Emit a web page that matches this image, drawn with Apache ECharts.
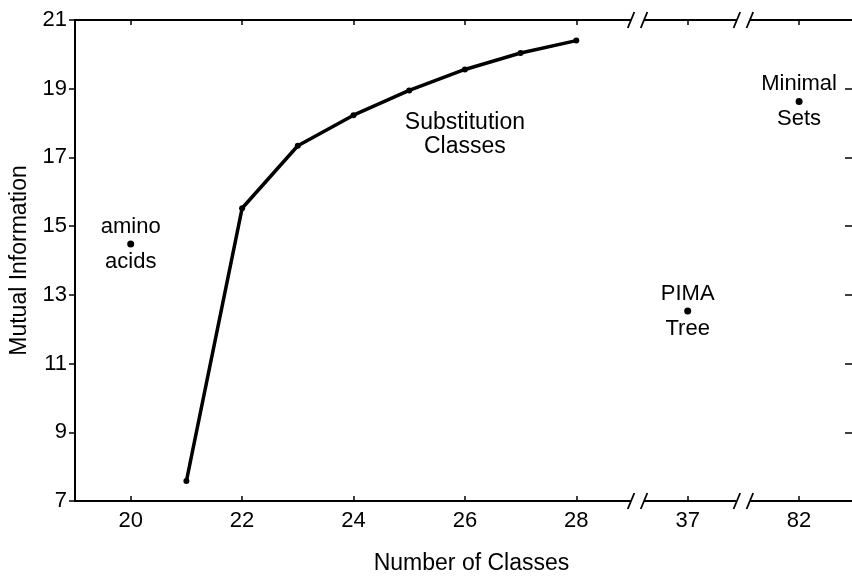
<!DOCTYPE html>
<html>
<head>
<meta charset="utf-8">
<script src="https://cdn.jsdelivr.net/npm/echarts@6/dist/echarts.min.js"></script>
<style>html,body{margin:0;padding:0;background:#fff}#chart{width:852px;height:580px}</style>
</head>
<body>
<div id="chart"></div>
<script>
// ---- data ----
const classCounts = [21, 22, 23, 24, 25, 26, 27, 28];
const mutualInfo = [7.58, 15.52, 17.34, 18.23, 18.95, 19.56, 20.04, 20.40];
const pointNames = ['amino\n\nacids', 'PIMA\n\nTree', 'Minimal\n\nSets'];
const pointClasses = [20, 37, 82];
const pointValues = [14.48, 12.53, 18.63];
const seriesLabel = 'Substitution\nClasses';
const seriesLabelAt = [26, 17.66];
// axis: position on the (broken) axis for each tick label
const xTickPos = [20, 22, 24, 26, 28, 30, 32];
const xTickLabels = ['20', '22', '24', '26', '28', '37', '82'];
const breakPos = [29.1, 31];
const yTicks = [7, 9, 11, 13, 15, 17, 19, 21];

function toAxis(n) {
  const i = xTickLabels.indexOf(String(n));
  if (n > 28 && i >= 0) return xTickPos[i];
  return n;
}
function axisLabelOf(v) {
  const i = xTickPos.indexOf(v);
  return i >= 0 ? xTickLabels[i] : '';
}

const FONT = 'Liberation Sans';
const chart = echarts.init(document.getElementById('chart'));
const lineData = classCounts.map((c, i) => [toAxis(c), mutualInfo[i]]);
const ptData = pointClasses.map((c, i) => ({ value: [toAxis(c), pointValues[i]], name: pointNames[i] }));
const breakData = [];
breakPos.forEach(b => { breakData.push([b, 7]); breakData.push([b, 21]); });

const xCommon = {
  type: 'value', min: 19, max: 32.95,
  splitLine: { show: false },
  axisLine: { lineStyle: { color: '#000', width: 2 } },
  axisTick: { inside: true, length: 5, customValues: xTickPos, lineStyle: { color: '#000', width: 1.5 } }
};
const yCommon = {
  type: 'value', min: 7, max: 21, interval: 2,
  splitLine: { show: false }
};

chart.setOption({
  animation: false,
  backgroundColor: '#fff',
  textStyle: { fontFamily: FONT, color: '#000' },
  grid: { left: 75, right: -4, top: 20, bottom: 75, containLabel: false },
  xAxis: [
    Object.assign({}, xCommon, {
      position: 'bottom',
      name: 'Number of Classes', nameLocation: 'middle', nameGap: 51,
      nameTextStyle: { fontFamily: FONT, fontSize: 23, color: '#000', padding: [0, 0, 0, 16] },
      axisLabel: { customValues: xTickPos, formatter: axisLabelOf, margin: 9, fontFamily: FONT, fontSize: 22, color: '#000' }
    }),
    Object.assign({}, xCommon, { position: 'top', axisLabel: { show: false } })
  ],
  yAxis: [
    Object.assign({}, yCommon, {
      position: 'left',
      axisLine: { show: true, lineStyle: { color: '#000', width: 2 } },
      name: 'Mutual Information', nameLocation: 'middle', nameGap: 44,
      nameTextStyle: { fontFamily: FONT, fontSize: 23, color: '#000' },
      axisTick: { show: true, inside: false, length: 6, lineStyle: { color: '#000', width: 1.5 } },
      axisLabel: { margin: 8, fontFamily: FONT, fontSize: 22, color: '#000' }
    }),
    Object.assign({}, yCommon, {
      position: 'right',
      axisLine: { show: false },
      axisTick: { show: true, inside: true, length: 7, lineStyle: { color: '#000', width: 1.5 } },
      axisLabel: { show: false }
    })
  ],
  series: [
    {
      type: 'line', data: lineData, symbol: 'circle', symbolSize: 6,
      lineStyle: { color: '#000', width: 3.5 }, itemStyle: { color: '#000' }, z: 3
    },
    {
      type: 'scatter', data: ptData, symbol: 'circle', symbolSize: 7,
      itemStyle: { color: '#000', opacity: 1 },
      label: {
        show: true, position: 'inside', formatter: p => p.name,
        fontFamily: FONT, fontSize: 22, lineHeight: 17.5, color: '#000', opacity: 1, textBorderWidth: 0
      }
    },
    {
      type: 'scatter', data: [{ value: seriesLabelAt, name: seriesLabel }], symbolSize: 0,
      itemStyle: { opacity: 1 },
      label: {
        show: true, position: 'inside', formatter: p => p.name,
        fontFamily: FONT, fontSize: 23, lineHeight: 24, color: '#000', opacity: 1, textBorderWidth: 0
      }
    },
    {
      type: 'custom', data: breakData, clip: false, z: 10,
      renderItem: function (params, api) {
        const c = api.coord([api.value(0), api.value(1)]);
        const half = 6.5, dx = 3.3, dy = 8;
        return {
          type: 'group',
          children: [
            { type: 'rect', shape: { x: c[0] - half, y: c[1] - 2.5, width: 2 * half, height: 5 }, style: { fill: '#fff' } },
            { type: 'line', shape: { x1: c[0] - half - dx, y1: c[1] + dy, x2: c[0] - half + dx, y2: c[1] - dy }, style: { stroke: '#000', lineWidth: 1.8 } },
            { type: 'line', shape: { x1: c[0] + half - dx, y1: c[1] + dy, x2: c[0] + half + dx, y2: c[1] - dy }, style: { stroke: '#000', lineWidth: 1.8 } }
          ]
        };
      }
    }
  ]
});
</script>
</body>
</html>
